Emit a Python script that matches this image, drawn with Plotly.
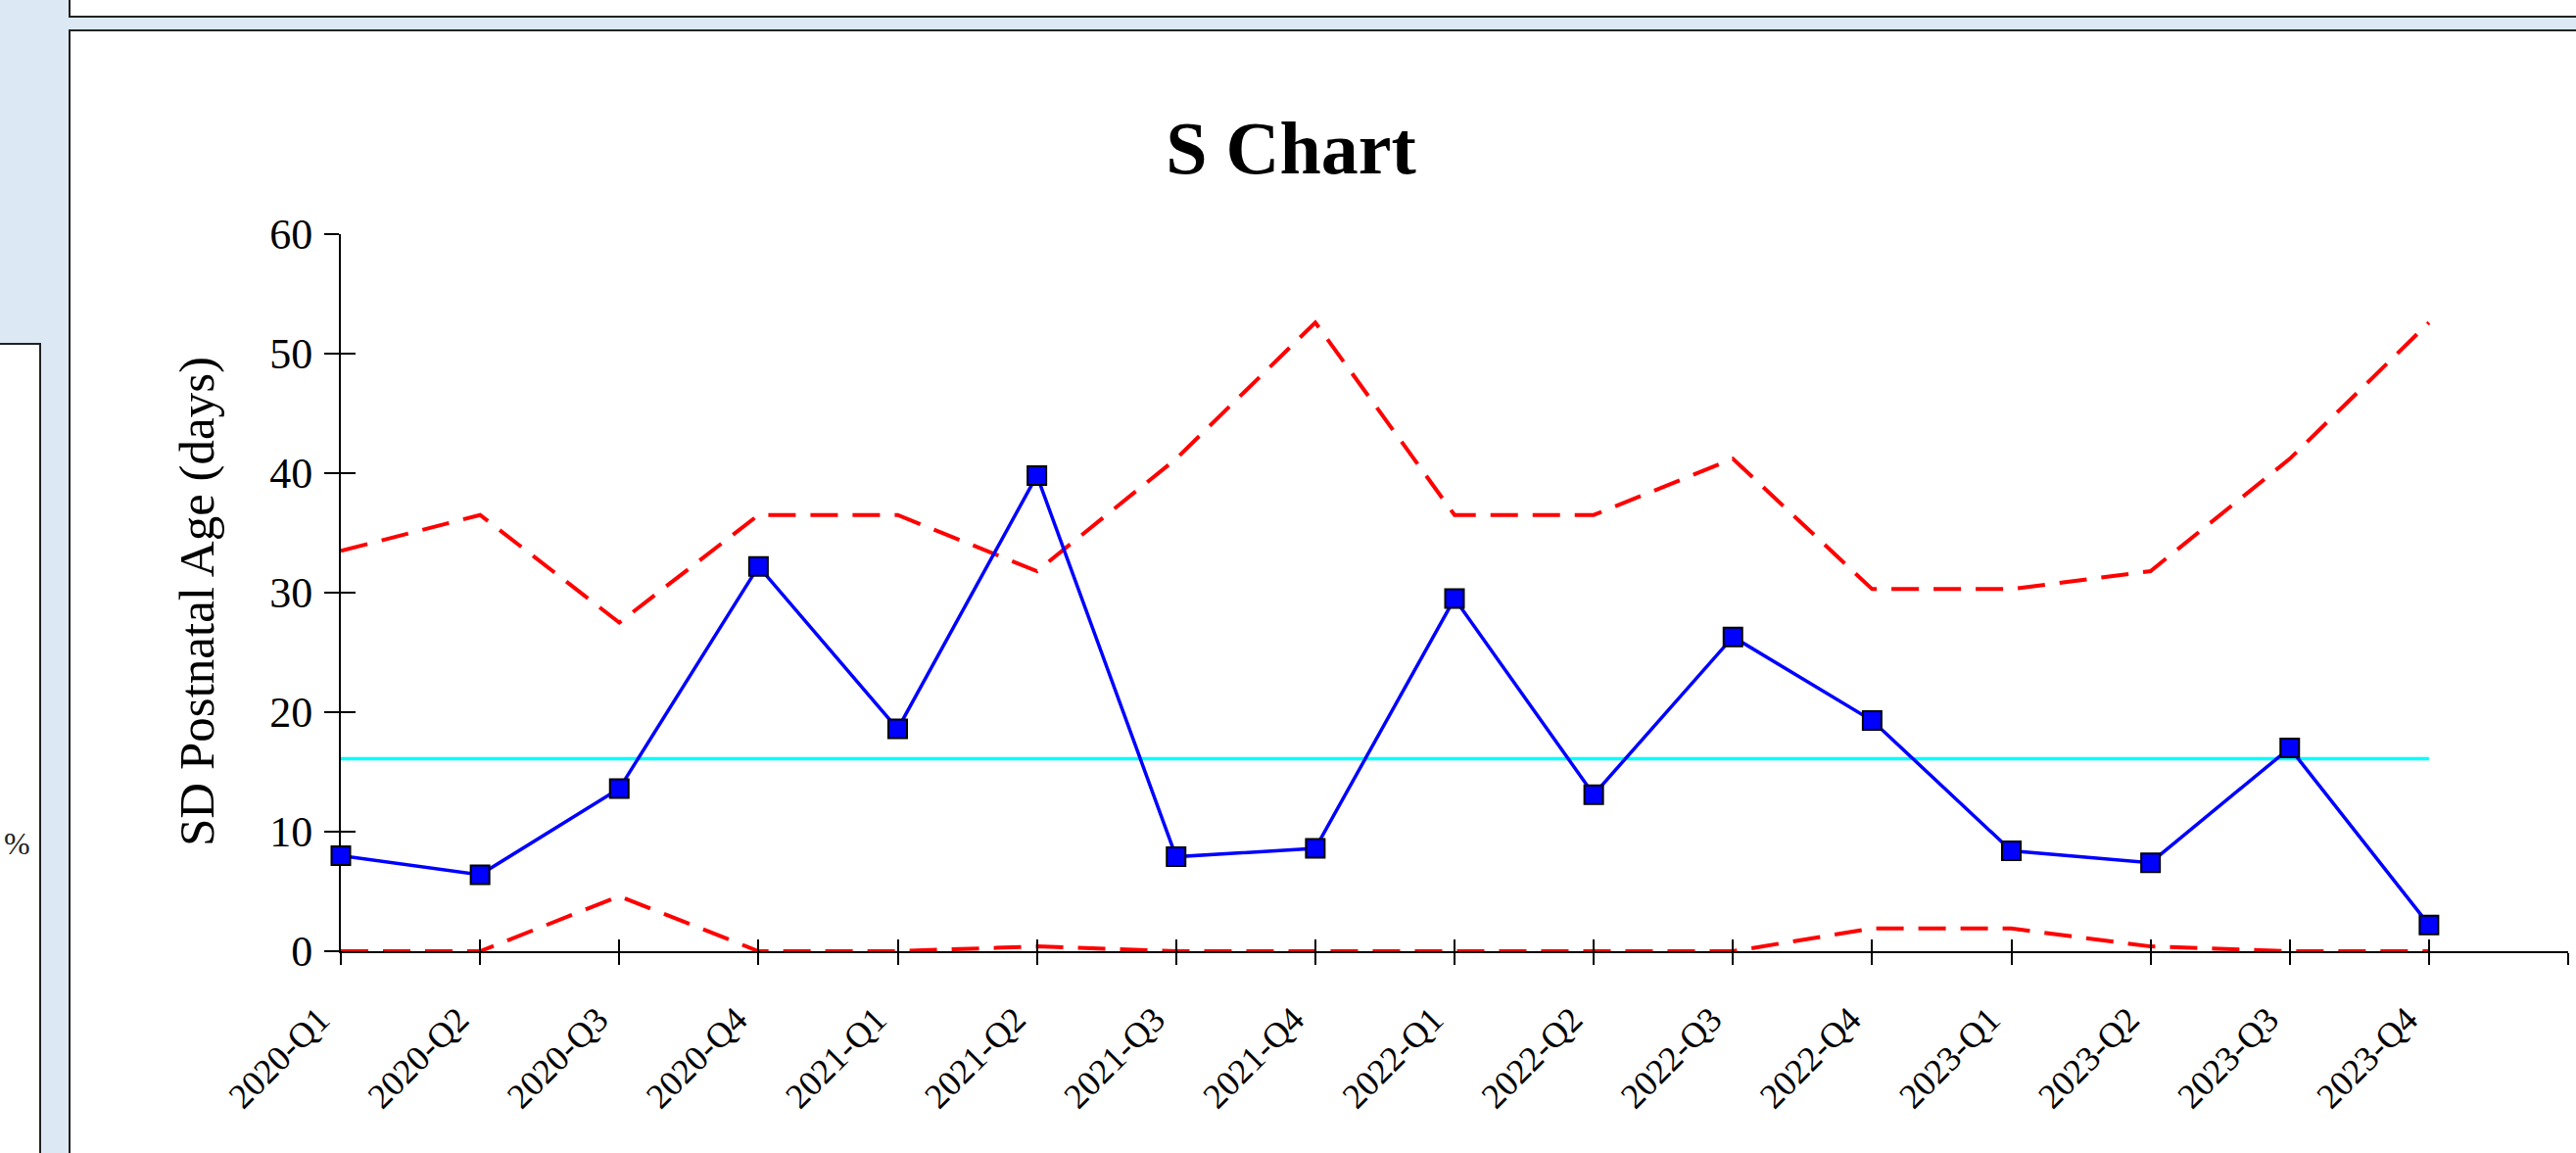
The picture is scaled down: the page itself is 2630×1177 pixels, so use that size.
import plotly.graph_objects as go

# S chart data, quarterly
QUARTERS = [
    "2020-Q1", "2020-Q2", "2020-Q3", "2020-Q4",
    "2021-Q1", "2021-Q2", "2021-Q3", "2021-Q4",
    "2022-Q1", "2022-Q2", "2022-Q3", "2022-Q4",
    "2023-Q1", "2023-Q2", "2023-Q3", "2023-Q4",
]
SD_DAYS = [8.0, 6.4, 13.6, 32.2, 18.6, 39.8, 7.9, 8.6,
           29.5, 13.1, 26.3, 19.3, 8.4, 7.4, 17.0, 2.2]
UCL = [33.5, 36.5, 27.5, 36.5, 36.5, 31.8, 41.2, 52.6,
       36.5, 36.5, 41.2, 30.3, 30.3, 31.8, 41.2, 52.6]
LCL = [0.0, 0.0, 4.6, 0.0, 0.0, 0.4, 0.0, 0.0,
       0.0, 0.0, 0.0, 1.9, 1.9, 0.4, 0.0, 0.0]
CENTER = 16.1
Y_TICKS = [0, 10, 20, 30, 40, 50, 60]

W, H = 2630, 1177
PLOT_L, PLOT_R, PLOT_T, PLOT_B = 348, 2622, 239, 971
SERIF = "Liberation Serif, Times New Roman, serif"
PANEL_BG = "#dce9f5"
BORDER = "#222222"


def xp(px):
    return (px - PLOT_L) / (PLOT_R - PLOT_L)


def yp(py):
    return (PLOT_B - py) / (PLOT_B - PLOT_T)


idx = list(range(len(QUARTERS)))
tick_idx = list(range(len(QUARTERS) + 1))
tick_txt = QUARTERS + [""]

fig = go.Figure()
dash = "28px,15px"
fig.add_trace(go.Scatter(x=idx, y=UCL, mode="lines", name="UCL",
                         line=dict(color="#ff0000", width=4, dash=dash)))
fig.add_trace(go.Scatter(x=idx, y=LCL, mode="lines", name="LCL",
                         line=dict(color="#ff0000", width=4, dash=dash)))
fig.add_trace(go.Scatter(x=idx, y=[CENTER] * len(idx), mode="lines", name="CL",
                         line=dict(color="#00ffff", width=3.5)))
fig.add_trace(go.Scatter(
    x=idx, y=SD_DAYS, mode="lines+markers", name="S",
    xaxis="x2", yaxis="y2", cliponaxis=False,
    line=dict(color="#0000ff", width=3.5),
    marker=dict(symbol="square", size=19, color="#0000ff",
                line=dict(color="#000000", width=2)),
))

axis_common = dict(showgrid=False, zeroline=False, automargin=False,
                   fixedrange=True, tickcolor="#000000", tickwidth=2)

fig.update_layout(
    width=W, height=H,
    margin=dict(l=PLOT_L, r=W - PLOT_R, t=PLOT_T, b=H - PLOT_B, pad=0),
    paper_bgcolor=PANEL_BG,
    plot_bgcolor="#ffffff",
    showlegend=False,
    font=dict(family=SERIF, color="#000000"),
    title=dict(text="S Chart", x=1318 / W, xref="container", xanchor="center",
               y=1 - 150 / H, yref="container", yanchor="middle",
               font=dict(family=SERIF, size=76, weight="bold", color="#000000")),
    xaxis=dict(range=[0, 16], tickmode="array", tickvals=tick_idx, ticktext=tick_txt,
               tickangle=-45, tickfont=dict(family=SERIF, size=36),
               ticks="outside", ticklen=12, ticklabelstandoff=20, ticklabelshift=-22,
               showline=True, linecolor="#000000", linewidth=2,
               layer="below traces", **axis_common),
    yaxis=dict(range=[0, 60], tickmode="array", tickvals=Y_TICKS,
               tickfont=dict(family=SERIF, size=44),
               ticks="outside", ticklen=15, ticklabelstandoff=3,
               showline=True, linecolor="#000000", linewidth=2,
               layer="below traces", **axis_common),
    xaxis2=dict(range=[0, 16], overlaying="x", anchor="y2", side="bottom",
                tickmode="array", tickvals=tick_idx, showticklabels=False,
                ticks="inside", ticklen=12, showline=False, **axis_common),
    yaxis2=dict(range=[0, 60], overlaying="y", anchor="x2", side="left",
                tickmode="array", tickvals=Y_TICKS, showticklabels=False,
                ticks="inside", ticklen=15, showline=False, **axis_common),
)

# surrounding page panels
box = dict(type="rect", xref="paper", yref="paper", layer="below",
           fillcolor="#ffffff", line=dict(color=BORDER, width=2))
fig.add_shape(x0=xp(71), x1=xp(2660), y0=yp(-30), y1=yp(17), **box)
fig.add_shape(x0=xp(71), x1=xp(2660), y0=yp(31), y1=yp(1210), **box)
fig.add_shape(x0=xp(-30), x1=xp(41), y0=yp(351), y1=yp(1210), **box)

fig.add_annotation(text="SD Postnatal Age (days)", xref="paper", yref="paper",
                   x=xp(201), y=yp(614), xanchor="center", yanchor="middle",
                   textangle=-90, showarrow=False,
                   font=dict(family=SERIF, size=51, color="#000000"))
fig.add_annotation(text="%", xref="paper", yref="paper",
                   x=xp(2), y=yp(861), xanchor="left", yanchor="middle",
                   showarrow=False, font=dict(family=SERIF, size=32, color="#222222"))

fig.write_html(
    "out.html",
    config={"displayModeBar": False},
    post_script="document.body.style.margin='0';document.body.style.overflow='hidden';",
)
